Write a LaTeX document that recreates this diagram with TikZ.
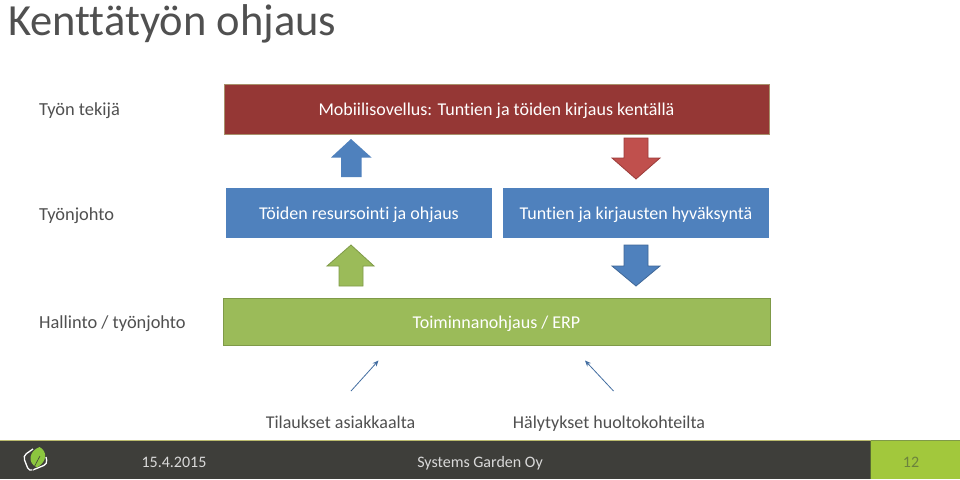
\documentclass[tikz,border=0pt]{standalone}
\usepackage{fontspec}
\setmainfont[RawFeature={-liga;-dlig;-clig}]{Carlito}
\usetikzlibrary{arrows.meta}
\definecolor{redbox}{HTML}{953735}
\definecolor{redline}{HTML}{A8906A}
\definecolor{redarrow}{HTML}{C0504D}
\definecolor{bluebox}{HTML}{4F81BD}
\definecolor{greenbox}{HTML}{9BBB59}
\definecolor{greenline}{HTML}{7F9A48}
\definecolor{txt}{HTML}{505050}
\definecolor{foot}{HTML}{3E3E3A}
\definecolor{footgreen}{HTML}{A2C83C}
\definecolor{leaf}{HTML}{8CC63F}
\tikzset{
  box/.style={anchor=north west,inner sep=0pt,outer sep=0pt,text=white,font=\fontsize{18}{20}\selectfont,align=center,text height=14pt,text depth=1pt},
  rowlabel/.style={anchor=base west,inner sep=0pt,text=txt,font=\fontsize{18.4}{22}\selectfont},
  source/.style={anchor=base,inner sep=0pt,text=txt,font=\fontsize{18}{22}\selectfont},
  thin arrow/.style={draw=bluebox!85!black,line width=0.8pt,-{Stealth[length=6pt,width=5pt]}},
  block/.style={line width=0.8pt,line join=miter},
  foottext/.style={anchor=base,inner sep=0pt,font=\fontsize{16}{19}\selectfont}
}
\begin{document}
\begin{tikzpicture}[x=1pt,y=-1pt]
\useasboundingbox (0,0) rectangle (960,479);
\fill[white] (0,0) rectangle (960,479);
% title
\node[anchor=base west,inner sep=0pt,text=txt,font=\fontsize{44.5}{50}\selectfont] (title) at (8,35) {Kenttätyön ohjaus};
% row labels
\node[rowlabel] (l1) at (39,115.5) {Työn tekijä};
\node[rowlabel] (l2) at (39,220) {Työnjohto};
\node[rowlabel] (l3) at (39,328) {Hallinto / työnjohto};
% boxes
\node[box,fill=redbox,draw=redline,line width=1pt,minimum width=545pt,minimum height=50pt] (mob) at (224,84) {Mobiilisovellus: Tuntien ja töiden kirjaus kentällä};
\node[box,fill=bluebox,minimum width=266pt,minimum height=50pt] (res) at (226,188) {Töiden resursointi ja ohjaus};
\node[box,fill=bluebox,minimum width=266pt,minimum height=50pt] (hyv) at (503,188) {Tuntien ja kirjausten hyväksyntä};
\node[box,fill=greenbox,draw=greenline,line width=1pt,minimum width=547pt,minimum height=47pt] (erp) at (223,298) {Toiminnanohjaus / ERP};
% block arrows
\path[block,fill=bluebox] (351,139) -- (371.5,157.5) -- (361.5,157.5) -- (361.5,177) -- (341,177) -- (341,157.5) -- (331,157.5) -- cycle;
\path[block,fill=redarrow,draw=redbox!85!redarrow] (636,179) -- (660,158) -- (648,158) -- (648,138) -- (624,138) -- (624,158) -- (612,158) -- cycle;
\path[block,fill=greenbox,draw=greenline] (351,245) -- (374,266) -- (363,266) -- (363,286) -- (339,286) -- (339,266) -- (327,266) -- cycle;
\path[block,fill=bluebox,draw=bluebox!80!black] (636,286) -- (660,266) -- (648,266) -- (648,245) -- (624,245) -- (624,266) -- (612,266) -- cycle;
% thin arrows
\coordinate (a1s) at (351,391);
\coordinate (a1e) at (378.5,360.5);
\coordinate (a2s) at (613.5,391);
\coordinate (a2e) at (585,360.5);
\draw[thin arrow] (a1s) -- (a1e);
\draw[thin arrow] (a2s) -- (a2e);
% sources
\node[source] (s1) at (340.5,428) {Tilaukset asiakkaalta};
\node[source] (s2) at (609,428) {Hälytykset huoltokohteilta};
% footer
\fill[foot] (0,441) rectangle (870.5,479);
\fill[footgreen] (871,441) rectangle (960,479);
\draw[line width=1pt,draw=foot!50!white!70!yellow] (0,440) -- (870.5,440);
\draw[line width=1pt,draw=greenline] (871,440) -- (960,440);
\draw[line width=1pt,draw=greenline!70!black] (870.5,441) -- (870.5,479);
% logo
\draw[white,line width=1.3pt,rounded corners=4pt] (33,449) -- (23,456) -- (29,471.5) -- (47.5,464) -- (46,457);
\fill[leaf] (39.5,447) .. controls (47,451) and (48,461) .. (37,467.5) .. controls (27,463) and (29,451) .. (39.5,447) -- cycle;
\draw[foot,line width=0.6pt] (32,471) -- (40,456);
% footer text
\node[foottext,text=white!85!black] (date) at (174,467) {15.4.2015};
\node[foottext,text=white!85!black] (co) at (480,467) {Systems Garden Oy};
\node[foottext,text=greenline!85!black] (num) at (911,467) {12};
\end{tikzpicture}
\end{document}
